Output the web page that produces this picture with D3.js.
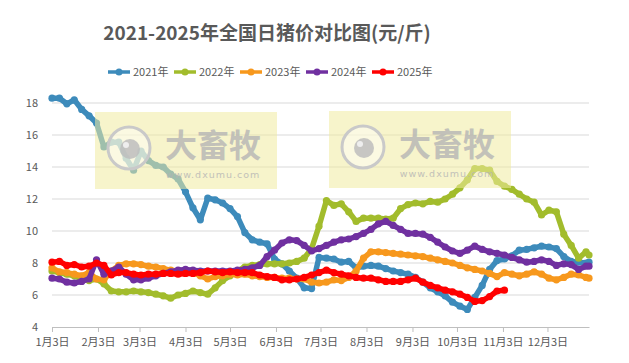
<!DOCTYPE html>
<html>
<head>
<meta charset="utf-8">
<script src="https://cdn.jsdelivr.net/npm/d3@7"></script>
<style>
  body { margin: 0; background: #fff; }
  svg { display: block; font-family: "Noto Sans CJK SC", "Noto Sans", sans-serif; }
</style>
</head>
<body>
<svg id="chart" width="629" height="363"></svg>
<script>
'use strict';

// days counted from Jan 3
const days = [0,5,10,15,20,25,30,35,40,45,50,55,60,65,70,75,80,85,90,95,
  100,105,110,115,120,125,130,135,140,145,150,155,160,165,170,175,180,185,190,195,
  200,205,210,215,220,225,230,235,240,245,250,255,260,265,270,275,280,285,290,295,
  300,305,310,315,320,325,330,335,340,345,350,355,360,362];

const tickDays = [0, 31, 59, 90, 120, 151, 181, 212, 243, 273, 304, 334];
const tickLabels = ['1月3日','2月3日','3月3日','4月3日','5月3日','6月3日',
  '7月3日','8月3日','9月3日','10月3日','11月3日','12月3日'];
const yTicks = [4, 6, 8, 10, 12, 14, 16, 18];

const names = ['2021年', '2022年', '2023年', '2024年', '2025年'];
const colors = ['#3d8bbb', '#a2bc2c', '#f7981d', '#7030a0', '#ff0000'];

const y2021 = [18.3,18.3,17.95,18.2,17.6,17.2,16.75,15.25,15.55,15.55,14.55,13.8,15.0,14.4,14.1,14.0,13.55,13.25,12.45,11.45,
  10.7,12.05,11.95,11.75,11.4,10.9,9.9,9.45,9.3,9.2,8.25,7.95,7.5,7.05,6.45,6.4,8.35,8.3,8.25,8.05,
  8.1,7.7,7.8,7.85,7.8,7.65,7.5,7.4,7.3,7.1,6.8,6.45,6.2,5.95,5.55,5.3,5.1,5.85,6.6,7.6,
  8.15,8.25,8.45,8.8,8.85,8.95,9.05,9.0,8.9,8.4,8.1,8.05,8.0,8.05];
const y2022 = [7.5,7.4,7.3,7.2,7.0,6.9,7.0,6.7,6.25,6.2,6.2,6.25,6.2,6.15,6.05,5.95,5.8,6.0,6.1,6.25,
  6.15,6.05,6.45,6.9,7.2,7.5,7.75,7.85,7.9,7.95,7.95,7.95,8.0,8.1,8.3,8.9,10.3,11.9,11.6,11.7,
  11.2,10.6,10.8,10.8,10.8,10.75,10.8,11.4,11.65,11.75,11.7,11.85,11.8,12.0,12.3,12.7,13.2,13.9,13.9,13.8,
  13.1,12.8,12.6,12.3,12.0,11.8,11.0,11.3,11.2,9.8,9.1,8.3,8.7,8.5];
const y2023 = [7.7,7.45,7.4,7.3,7.2,7.4,7.0,6.95,7.5,7.85,7.95,7.95,7.9,7.8,7.75,7.65,7.55,7.5,7.5,7.4,
  7.2,7.0,7.15,7.2,7.3,7.25,7.3,7.2,7.15,7.1,7.1,7.05,7.05,7.0,7.0,6.8,6.75,6.8,6.95,6.9,
  7.1,7.5,8.3,8.7,8.7,8.65,8.6,8.55,8.5,8.45,8.4,8.3,8.2,8.1,8.0,7.85,7.7,7.6,7.5,7.35,
  7.15,7.4,7.3,7.2,7.3,7.45,7.3,7.05,6.95,7.1,7.3,7.25,7.1,7.05];
const y2024 = [7.05,7.0,6.8,6.75,6.85,7.0,8.2,7.3,7.5,7.75,7.3,6.95,6.95,7.05,7.2,7.35,7.45,7.55,7.6,7.55,
  7.5,7.5,7.5,7.5,7.5,7.55,7.6,7.7,7.85,8.4,8.8,9.25,9.45,9.4,9.1,8.75,8.9,9.1,9.3,9.45,
  9.5,9.65,9.85,10.1,10.45,10.6,10.35,10.1,9.85,9.85,9.8,9.6,9.3,9.0,8.75,8.6,8.8,9.05,8.85,8.7,
  8.6,8.5,8.35,8.2,8.05,8.1,8.2,8.1,7.85,7.95,7.9,7.6,7.8,7.8];
const y2025 = [8.05,8.1,7.85,7.9,7.75,7.8,8.0,7.85,7.25,7.4,7.4,7.3,7.25,7.3,7.3,7.35,7.35,7.3,7.35,7.35,
  7.4,7.5,7.45,7.4,7.45,7.4,7.4,7.4,7.25,7.15,7.1,6.95,6.95,7.0,7.1,7.25,7.4,7.55,7.4,7.3,
  7.2,7.1,7.05,7.05,6.95,6.85,6.85,6.85,6.95,7.05,6.8,6.6,6.45,6.3,6.2,6.05,5.85,5.6,5.65,5.9,
  6.25,6.3];

const seriesValues = [y2021, y2022, y2023, y2024, y2025];

const svg = d3.select('#chart');

const x = d3.scaleLinear().domain([0, 362]).range([52, 589]);
const y = d3.scaleLinear().domain([4, 18]).range([327, 103]);

// title
svg.append('text')
  .attr('x', 267).attr('y', 40)
  .attr('text-anchor', 'middle')
  .style('font-size', '19px').style('font-weight', 'bold')
  .style('fill', '#595959')
  .text('2021-2025年全国日猪价对比图(元/斤)');

// legend
const legend = svg.append('g').attr('transform', 'translate(108,72)');
names.forEach(function(n, i) {
  const g = legend.append('g').attr('transform', 'translate(' + (i * 66) + ',0)');
  g.append('line').attr('x1', 0).attr('x2', 22).attr('y1', 0).attr('y2', 0)
    .style('stroke', colors[i]).style('stroke-width', 3.5);
  g.append('circle').attr('cx', 11).attr('cy', 0).attr('r', 3.5).style('fill', colors[i]);
  g.append('text').attr('x', 25).attr('y', 4)
    .style('font-size', '11px').style('fill', '#595959').text(n);
});

// grid lines
svg.append('g').selectAll('line')
  .data(yTicks.filter(function(d) { return d > 4; }))
  .enter().append('line')
  .attr('x1', 52).attr('x2', 589)
  .attr('y1', function(d) { return y(d); })
  .attr('y2', function(d) { return y(d); })
  .style('stroke', '#d9d9d9').style('stroke-width', 1);

// y axis
const yAxis = svg.append('g')
  .attr('transform', 'translate(52,0)')
  .call(d3.axisLeft(y).tickValues(yTicks).tickSize(0).tickPadding(14));
yAxis.select('.domain').remove();
yAxis.selectAll('text').style('font-size', '11px').style('fill', '#595959')
  .style('font-family', '"Noto Sans CJK SC", sans-serif');

// x axis
const xAxis = svg.append('g')
  .attr('transform', 'translate(0,327)')
  .call(d3.axisBottom(x).tickValues(tickDays)
    .tickFormat(function(d, i) { return tickLabels[i]; })
    .tickSize(5).tickPadding(6).tickSizeOuter(0));
xAxis.select('.domain').style('stroke', '#bfbfbf');
xAxis.selectAll('.tick line').style('stroke', '#bfbfbf');
xAxis.selectAll('text').style('font-size', '11px').style('fill', '#595959')
  .style('font-family', '"Noto Sans CJK SC", sans-serif');

// series
const line = d3.line()
  .x(function(d) { return x(d[0]); })
  .y(function(d) { return y(d[1]); });

seriesValues.forEach(function(vals, i) {
  const pts = vals.map(function(v, j) { return [days[j], v]; });
  const g = svg.append('g');
  g.append('path').datum(pts)
    .attr('d', line)
    .style('fill', 'none')
    .style('stroke', colors[i])
    .style('stroke-width', 5.5)
    .style('stroke-linejoin', 'round');
  g.selectAll('circle').data(pts).enter().append('circle')
    .attr('cx', function(d) { return x(d[0]); })
    .attr('cy', function(d) { return y(d[1]); })
    .attr('r', 3.6)
    .style('fill', colors[i]);
});

// watermarks
function watermark(x0, y0) {
  const g = svg.append('g').attr('transform', 'translate(' + x0 + ',' + y0 + ')');
  g.append('rect').attr('width', 182).attr('height', 77)
    .style('fill', '#f1eba0').style('opacity', 0.55);
  g.append('circle').attr('cx', 34).attr('cy', 36).attr('r', 21)
    .style('fill', '#ffffff').style('fill-opacity', 0.45)
    .style('stroke', '#c9c9c9').style('stroke-width', 3);
  g.append('circle').attr('cx', 35).attr('cy', 37).attr('r', 10)
    .style('fill', '#bdbdbd').style('opacity', 0.85);
  g.append('circle').attr('cx', 31).attr('cy', 33).attr('r', 3)
    .style('fill', '#eeeeee');
  g.append('text').attr('x', 118).attr('y', 45)
    .attr('text-anchor', 'middle')
    .style('font-size', '32px').style('font-weight', 'bold')
    .style('fill', '#b5b5b5').style('opacity', 0.8)
    .text('大畜牧');
  g.append('text').attr('x', 118).attr('y', 66)
    .attr('text-anchor', 'middle')
    .style('font-size', '9.5px').style('letter-spacing', '1px')
    .style('fill', '#b5b5b5').style('opacity', 0.8)
    .style('font-family', '"DejaVu Sans", sans-serif')
    .text('www.dxumu.com');
}
watermark(95, 112);
watermark(329, 111);
</script>
</body>
</html>
